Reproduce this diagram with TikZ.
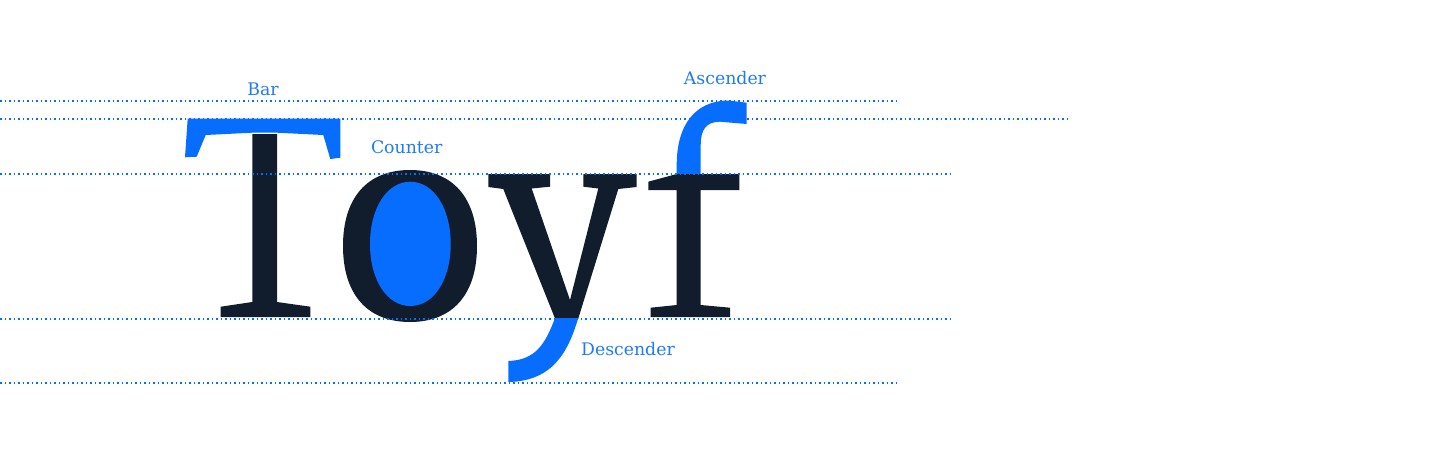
\documentclass[tikz,border=0pt]{standalone}
\usepackage{fontspec}
\setmainfont{DejaVu Serif}
\definecolor{hiblue}{HTML}{076DFF}
\definecolor{labblue}{HTML}{1F7AF7}
\definecolor{ink}{HTML}{111D2C}
\begin{document}
\begin{tikzpicture}[x=1pt,y=-1pt,
  guide/.style={draw=hiblue,line width=1.6pt,dash pattern=on 1.6pt off 2.9pt},
  lab/.style={text=labblue,font=\fontsize{17.3}{19}\selectfont,anchor=base,inner sep=0pt},
  part/.style={fill=hiblue},
  glyph/.style={fill=ink}]
\useasboundingbox (0,0) rectangle (1436,472);
% ---- T ----
\path[glyph] (252.3,134) -- (277,134) -- (277,302) -- (310.3,306.7) -- (310.3,317) -- (220.7,317) -- (220.7,306.7) -- (252.3,302) -- cycle;
\path[part] (187.7,118.5) -- (340.3,118.5) -- (340.3,157.7) -- (330.3,159) -- (323.3,135) -- (277,132.7) -- (252.3,132.7) -- (205.7,135) -- (196.7,156.7) -- (185,157.3) -- cycle;
% ---- o ----
\path[glyph] (343,246) .. controls (343,198) and (367,170) .. (410,170) .. controls (453,170) and (477,198) .. (477,246) .. controls (477,294) and (453,322) .. (410,322) .. controls (367,322) and (343,294) .. (343,246) -- cycle;
\path[part] (370,244) .. controls (370,208) and (387,181.7) .. (410.3,181.7) .. controls (433.6,181.7) and (450.7,208) .. (450.7,244) .. controls (450.7,280) and (433.6,306) .. (410.3,306) .. controls (387,306) and (370,280) .. (370,244) -- cycle;
% ---- y ----
\path[glyph] (488.3,174) -- (550,174) -- (550,186.7) -- (531.7,188.5) -- (570,300) -- (598.3,188.5) -- (583.3,186.7) -- (583.3,174) -- (636.7,174) -- (636.7,187) -- (618.3,189) -- (578.3,318.5) -- (555,318.5) -- (503.3,189) -- (488.3,187) -- cycle;
\path[part] (555,318) -- (578.3,318) .. controls (568,352) and (553,381) .. (508.3,382) -- (508.3,361) .. controls (535,360) and (545,345) .. (555,318) -- cycle;
% ---- f ----
\path[part] (676.7,174) -- (676.7,165) .. controls (676.7,125) and (695,101) .. (728,100.5) -- (746.7,102.7) -- (746.7,124) -- (720,121.7) .. controls (706,121.7) and (700.7,130) .. (700.7,145) -- (700.7,174) -- cycle;
\path[glyph] (648.3,181.7) -- (676.7,174) -- (739.3,174) -- (739.3,190) -- (700.7,190) -- (700.7,305) -- (730,307.7) -- (730,317) -- (650.7,317) -- (650.7,307.7) -- (676.7,305) -- (676.7,190) -- (648.3,190) -- cycle;
% ---- guide lines ----
\coordinate (asc0) at (0,101);   \coordinate (asc1) at (898,101);
\coordinate (cap0) at (0,119);   \coordinate (cap1) at (1070,119);
\coordinate (xh0) at (0,174);    \coordinate (xh1) at (952,174);
\coordinate (base0) at (0,319);  \coordinate (base1) at (952,319);
\coordinate (desc0) at (0,383);  \coordinate (desc1) at (898,383);
\draw[guide] (asc0) -- (asc1);
\draw[guide] (cap0) -- (cap1);
\draw[guide] (xh0) -- (xh1);
\draw[guide] (base0) -- (base1);
\draw[guide] (desc0) -- (desc1);
% ---- labels ----
\node[lab] (bar) at (263,95.7) {Bar};
\node[lab] (counter) at (406.7,153.3) {Counter};
\node[lab] (ascender) at (725,84) {Ascender};
\node[lab] (descender) at (628,355) {Descender};
\end{tikzpicture}
\end{document}
